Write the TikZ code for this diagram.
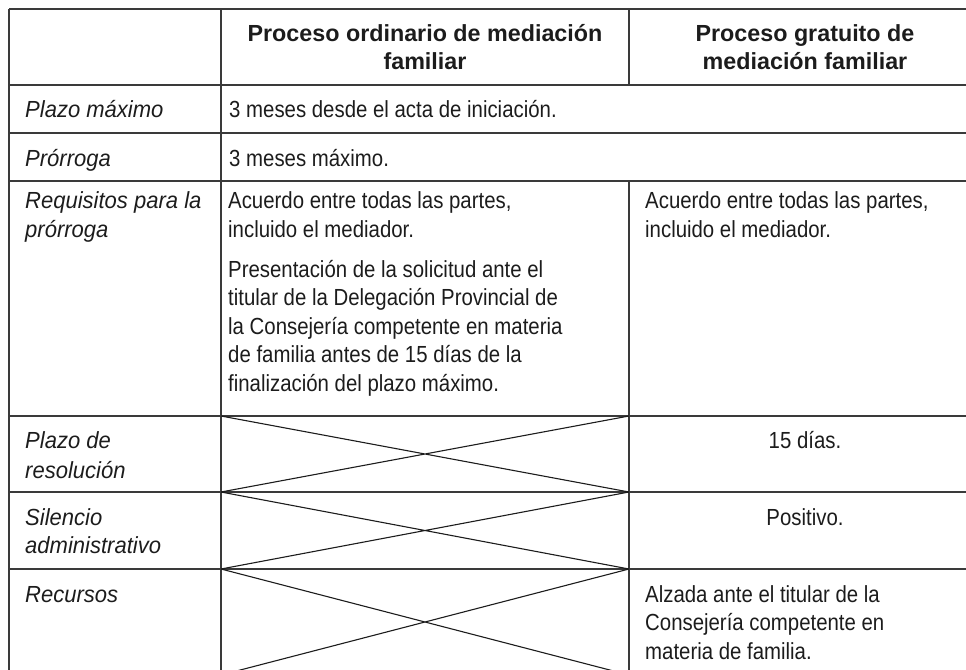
\documentclass[tikz,border=0pt]{standalone}
\usepackage{fontspec}
\newfontfamily\bodyf{Liberation Sans}[FakeStretch=0.875]
\newfontfamily\itf{Liberation Sans}[FakeStretch=0.945]
\newfontfamily\hdf{Liberation Sans}
\definecolor{ink}{HTML}{1C1C1C}
\definecolor{rule}{HTML}{3A3A3A}
\tikzset{
  cell/.style={anchor=base west, inner sep=0pt, text=ink, font=\bodyf\fontsize{23.3}{28.5}\selectfont},
  ccell/.style={anchor=base, inner sep=0pt, text=ink, font=\bodyf\fontsize{23.3}{28.5}\selectfont},
  rowhead/.style={anchor=base west, inner sep=0pt, text=ink, font=\itf\itshape\fontsize{23.3}{28.5}\selectfont},
  colhead/.style={anchor=base, inner sep=0pt, text=ink, font=\hdf\bfseries\fontsize{23.3}{28}\selectfont},
  grid/.style={draw=rule, line width=1.3pt},
  cross/.style={draw=ink, line width=1.1pt}
}
\begin{document}
\begin{tikzpicture}[x=1pt,y=-1pt]
\useasboundingbox (0,0) rectangle (966,669);
% horizontal rules
\foreach \yy in {9,85,133,181,416,492,569}{
  \draw[grid] (9,\yy) -- (970,\yy);
}
% verticals
\draw[grid] (9,9) -- (9,680);
\draw[grid] (221,9) -- (221,680);
\draw[grid] (629,9) -- (629,85);
\draw[grid] (629,181) -- (629,680);
% crosses
\coordinate (a1) at (221,416); \coordinate (b1) at (629,416);
\coordinate (c1) at (221,492); \coordinate (d1) at (629,492);
\coordinate (c2) at (221,569); \coordinate (d2) at (629,569);
\coordinate (c3) at (221,675); \coordinate (d3) at (629,675);
\draw[cross] (a1) -- (d1) (c1) -- (b1);
\draw[cross] (c1) -- (d2) (c2) -- (d1);
\draw[cross] (c2) -- (d3) (c3) -- (d2);
% header
\node[colhead] (h2a) at (425,42) {Proceso ordinario de mediación};
\node[colhead] (h2b) at (425,70) {familiar};
\node[colhead] (h3a) at (805,42) {Proceso gratuito de};
\node[colhead] (h3b) at (805,70) {mediación familiar};
% row heads
\node[rowhead] (r1) at (25,117) {Plazo máximo};
\node[rowhead] (r2) at (25,166) {Prórroga};
\node[rowhead] (r3a) at (25,208) {Requisitos para la};
\node[rowhead] (r3b) at (25,237) {prórroga};
\node[rowhead] (r4a) at (25,448) {Plazo de};
\node[rowhead] (r4b) at (25,478) {resolución};
\node[rowhead] (r5a) at (25,525) {Silencio};
\node[rowhead] (r5b) at (25,553) {administrativo};
\node[rowhead] (r6) at (25,602) {Recursos};
% column 2
\node[cell] (p1) at (229,117) {3 meses desde el acta de iniciación.};
\node[cell] (p2) at (229,166) {3 meses máximo.};
\node[cell] (p3a) at (228,208) {Acuerdo entre todas las partes,};
\node[cell] (p3b) at (228,237) {incluido el mediador.};
\node[cell] (p3c) at (228,277) {Presentación de la solicitud ante el};
\node[cell] (p3d) at (228,305) {titular de la Delegación Provincial de};
\node[cell] (p3e) at (228,334) {la Consejería competente en materia};
\node[cell] (p3f) at (228,362) {de familia antes de 15 días de la};
\node[cell] (p3g) at (228,391) {finalización del plazo máximo.};
% column 3
\node[cell] (g3a) at (645,208) {Acuerdo entre todas las partes,};
\node[cell] (g3b) at (645,237) {incluido el mediador.};
\node[ccell] (g4) at (805,448) {15 días.};
\node[ccell] (g5) at (805,525) {Positivo.};
\node[cell] (g6a) at (645,602) {Alzada ante el titular de la};
\node[cell] (g6b) at (645,630) {Consejería competente en};
\node[cell] (g6c) at (645,659) {materia de familia.};
\end{tikzpicture}
\end{document}
